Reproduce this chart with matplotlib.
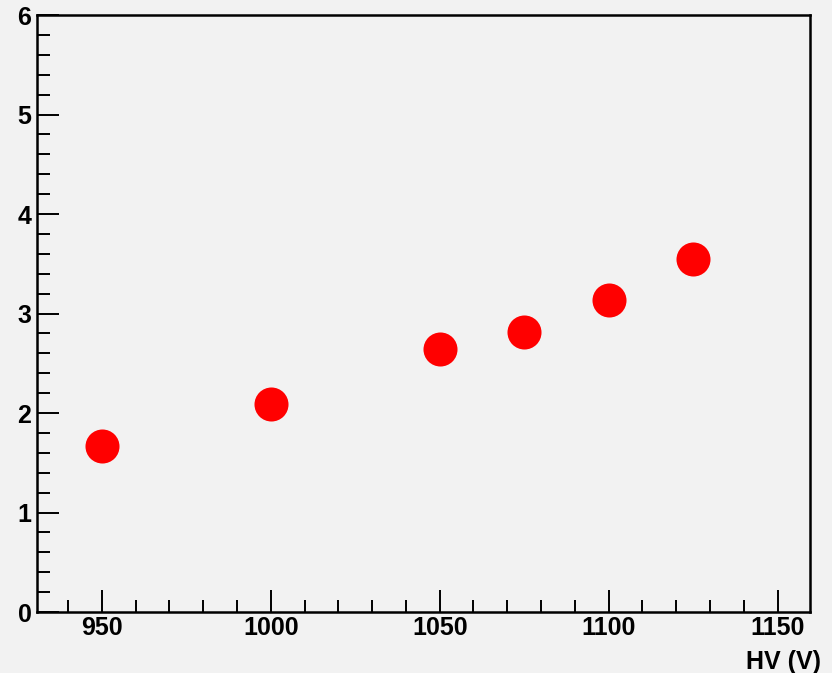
import matplotlib
matplotlib.use('Agg')
import matplotlib.pyplot as plt
from matplotlib.ticker import MultipleLocator

# data
hv = [950, 1000, 1050, 1075, 1100, 1125]
values = [1.67, 2.09, 2.64, 2.81, 3.14, 3.55]

bg = '#f2f2f2'
plt.rcParams['font.family'] = ['Liberation Sans', 'DejaVu Sans']
plt.rcParams['font.weight'] = 'bold'

fig = plt.figure(figsize=(8.32, 6.73), dpi=100, facecolor=bg)
ax = fig.add_axes([0.0445, 0.0906, 0.929, 0.887])
ax.set_facecolor(bg)

ax.plot(hv, values, 'o', color='red', markersize=24.5, markeredgewidth=0, clip_on=False)

ax.set_xlim(930.8, 1159.6)
ax.set_ylim(0, 6)
ax.xaxis.set_major_locator(MultipleLocator(50))
ax.xaxis.set_minor_locator(MultipleLocator(10))
ax.yaxis.set_major_locator(MultipleLocator(1))
ax.yaxis.set_minor_locator(MultipleLocator(0.2))

for s in ax.spines.values():
    s.set_linewidth(1.8)
    s.set_color('black')

ax.tick_params(which='both', direction='in', top=False, right=False,
               width=1.4, color='black', labelsize=18)
ax.tick_params(which='major', length=16)
ax.tick_params(which='minor', length=9)
ax.tick_params(axis='x', pad=3)
ax.tick_params(axis='y', pad=4)

ax.set_xlabel('HV (V)', fontsize=18, fontweight='bold')
ax.xaxis.set_label_coords(1.014, -0.083)
ax.xaxis.label.set_ha('right')
ax.xaxis.label.set_va('center')

fig.savefig('out.png', dpi=100, facecolor=bg)
